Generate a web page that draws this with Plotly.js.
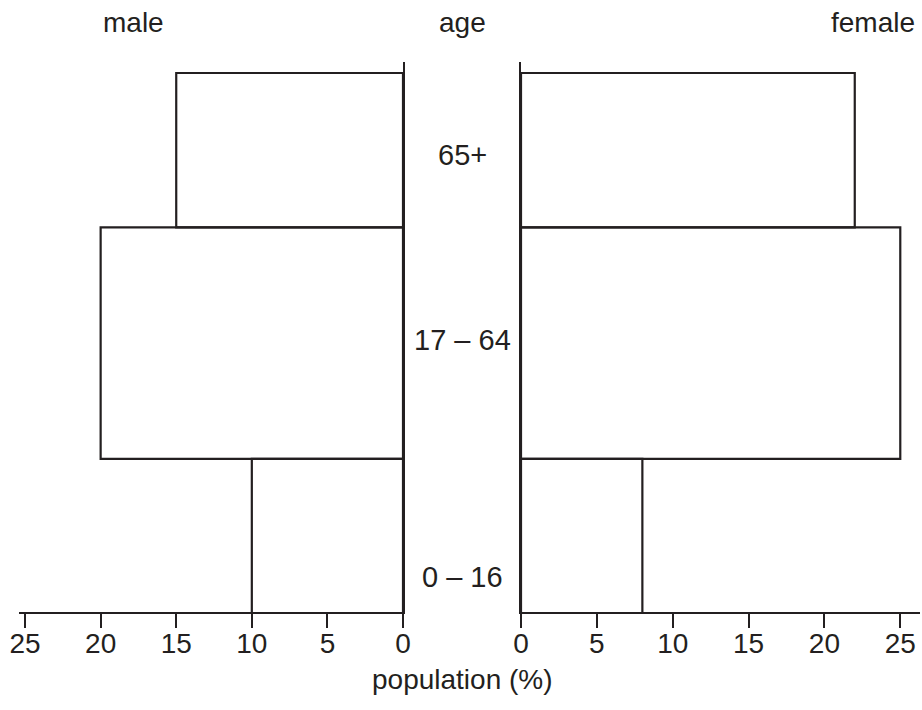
<!DOCTYPE html>
<html>
<head>
<meta charset="utf-8">
<script src="https://cdn.plot.ly/plotly-3.0.1.min.js"></script>
<style>html,body{margin:0;padding:0;background:#fff;}#chart{width:922px;height:710px;}</style>
</head>
<body>
<div id="chart"></div>
<script>
// Data
var ageGroups = ['0 – 16', '17 – 64', '65+'];
var groupLower = [0, 28, 70];      // vertical band start (chart units)
var groupUpper = [28, 70, 98];     // vertical band end (chart units)
var male = [10, 20, 15];           // population (%)
var female = [8, 25, 22];          // population (%)
var tickVals = [0, 5, 10, 15, 20, 25];
var labelPos = [6.6, 49.5, 83.1];  // y positions of the age labels

var ink = '#231f20';
var FONT = 'Liberation Sans, Arial, Helvetica, sans-serif';

var centers = groupLower.map(function (lo, i) { return (lo + groupUpper[i]) / 2; });
var widths = groupLower.map(function (lo, i) { return groupUpper[i] - lo; });

var barStyle = { color: 'rgba(255,255,255,0)', line: { color: ink, width: 2.2 } };

var traces = [
  { type: 'bar', orientation: 'h', x: male, y: centers, width: widths,
    xaxis: 'x', yaxis: 'y', marker: barStyle, hoverinfo: 'x', showlegend: false },
  { type: 'bar', orientation: 'h', x: female, y: centers, width: widths,
    xaxis: 'x2', yaxis: 'y2', marker: barStyle, hoverinfo: 'x', showlegend: false }
];

var W = 922;
function px(p) { return p / W; }

var xCommon = {
  tickvals: tickVals, ticktext: tickVals.map(String),
  ticks: 'outside', ticklen: 14, tickwidth: 2, tickcolor: ink,
  ticklabelstandoff: -9,
  showline: true, linecolor: ink, linewidth: 2,
  showgrid: false, zeroline: false,
  tickfont: { family: FONT, size: 28, color: ink },
  fixedrange: true
};

var yCommon = {
  range: [0.2, 100], showgrid: false, zeroline: false,
  showticklabels: false, ticks: '',
  showline: true, linecolor: ink, linewidth: 2, fixedrange: true
};

var annFont = { family: FONT, size: 28, color: ink };
var labFont = { family: FONT, size: 29, color: ink };
var annotations = ageGroups.map(function (g, i) {
  return { text: g, xref: 'paper', yref: 'y', x: px(462), y: labelPos[i],
           xanchor: 'center', yanchor: 'middle', showarrow: false, font: labFont };
});
annotations.push(
  { text: 'male', xref: 'paper', yref: 'paper', x: px(133), y: 1, yshift: 40,
    xanchor: 'center', yanchor: 'middle', showarrow: false, font: annFont },
  { text: 'age', xref: 'paper', yref: 'paper', x: px(462), y: 1, yshift: 40,
    xanchor: 'center', yanchor: 'middle', showarrow: false, font: annFont },
  { text: 'female', xref: 'paper', yref: 'paper', x: px(873), y: 1, yshift: 40,
    xanchor: 'center', yanchor: 'middle', showarrow: false, font: annFont },
  { text: 'population (%)', xref: 'paper', yref: 'paper', x: px(462), y: 0, yshift: -67,
    xanchor: 'center', yanchor: 'middle', showarrow: false, font: annFont }
);

var layout = {
  width: 922, height: 710,
  margin: { l: 0, r: 0, t: 62, b: 97.5 },
  paper_bgcolor: '#ffffff', plot_bgcolor: 'rgba(0,0,0,0)',
  font: { family: FONT, color: ink },
  bargap: 0,
  xaxis: Object.assign({}, xCommon, { domain: [px(19), px(403)], range: [25.4, 0], anchor: 'y' }),
  yaxis: Object.assign({}, yCommon, { domain: [0, 1], anchor: 'x', side: 'right' }),
  xaxis2: Object.assign({}, xCommon, { domain: [px(521), px(920)], range: [0, 26.3], anchor: 'y2' }),
  yaxis2: Object.assign({}, yCommon, { domain: [0, 1], anchor: 'x2', side: 'left' }),
  annotations: annotations
};

Plotly.newPlot('chart', traces, layout, { displayModeBar: false, staticPlot: true });
</script>
</body>
</html>
